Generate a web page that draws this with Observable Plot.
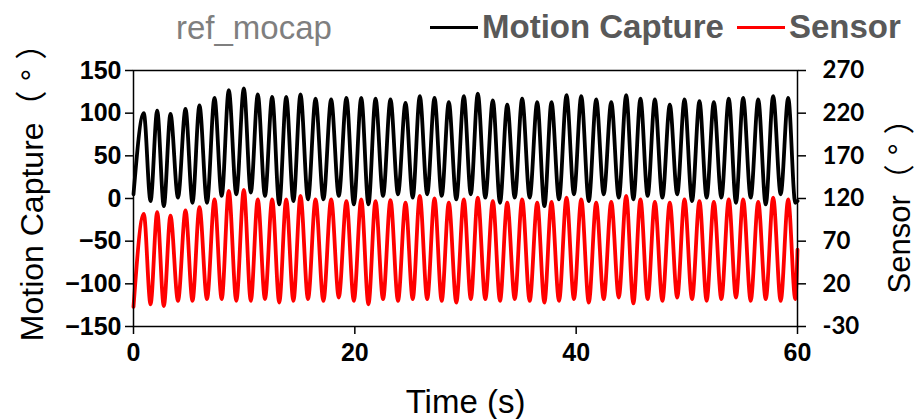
<!DOCTYPE html>
<html><head><meta charset="utf-8">
<script src="https://cdn.jsdelivr.net/npm/d3@7"></script>
<script src="https://cdn.jsdelivr.net/npm/@observablehq/plot@0.6"></script>
<style>
body{margin:0;background:#fff;}
#wrap{position:relative;width:920px;height:419px;overflow:hidden;background:#fff;}
#head{position:relative;width:920px;height:56px;font-family:"Liberation Sans",Arial,sans-serif;}
#head .t{position:absolute;white-space:nowrap;}
#head .sw{position:absolute;height:3px;}
</style></head><body>
<div id="wrap"><div id="head"></div><div id="chart"></div></div>
<script>
// ---- data ----
const chartTitle = "ref_mocap";
const seriesNames = ["Motion Capture", "Sensor"];
const seriesColors = ["#000000", "#ff0000"];
const xLabel = "Time (s)";
const yLabelLeft = "Motion Capture（ ° ）";
const yLabelRight = "Sensor（ ° ）";

const timeDomain = [0, 60];
const timeTicks = [0, 20, 40, 60];
const mocapDomain = [-150, 150];
const mocapTicks = [-150, -100, -50, 0, 50, 100, 150];
const sensorDomain = [-30, 270];
const sensorTicks = [-30, 20, 70, 120, 170, 220, 270];

// time of each oscillation peak / trough (s)
const peakTimes = [0.93, 2.14, 3.34, 4.70, 5.96, 7.32, 8.61, 9.97, 11.23, 12.53, 13.80, 15.09, 16.45, 17.86, 19.24,
  20.58, 21.87, 23.22, 24.58, 25.87, 27.20, 28.49, 29.85, 31.11, 32.47, 33.77, 35.12, 36.48, 37.77, 39.13,
  40.46, 41.81, 43.17, 44.52, 45.81, 47.11, 48.46, 49.79, 51.14, 52.44, 53.79, 55.09, 56.45, 57.80, 59.16];
const troughTimes = [1.54, 2.74, 4.02, 5.33, 6.64, 7.97, 9.29, 10.60, 11.88, 13.17, 14.45, 15.77, 17.16, 18.55, 19.91,
  21.23, 22.55, 23.90, 25.23, 26.54, 27.85, 29.17, 30.48, 31.79, 33.12, 34.45, 35.80, 37.13, 38.45, 39.80,
  41.14, 42.49, 43.85, 45.17, 46.46, 47.79, 49.13, 50.47, 51.79, 53.12, 54.44, 55.77, 57.13, 58.48, 59.80];

// Motion Capture (left axis, °)
const mocapPeaks = [100, 103, 99, 105, 109, 118, 127, 129, 122, 119, 119, 122, 117, 116, 118,
  118, 117, 116, 112, 120, 118, 113, 120, 123, 115, 110, 117, 113, 113, 121,
  120, 116, 113, 121, 117, 116, 110, 116, 114, 113, 117, 118, 116, 120, 118];
const mocapTroughs = [-3, -9, 1, -5, -5, 3, 5, 7, 3, -7, -3, -1, -1, 3, -7,
  -7, 3, 5, 1, 5, 3, -1, 5, 1, -5, 1, 1, -9, -1, 5,
  -3, 5, 1, -1, 3, 1, 5, -3, 1, 1, -5, 1, -7, 5, -5];
const mocapStart = 5, mocapEnd = -3;

// Sensor (right axis, °)
const sensorPeaks = [102, 104, 100, 106, 110, 119, 129, 130, 119, 119, 119, 123, 119, 119, 117,
  119, 117, 118, 115, 123, 120, 115, 119, 121, 117, 115, 119, 115, 116, 121,
  119, 115, 116, 123, 119, 116, 115, 119, 117, 116, 119, 119, 116, 121, 119];
const sensorTroughs = [-4, -6, 0, 0, 2, 2, 0, 0, 2, -2, 0, 2, 0, 4, 0,
  -4, 2, 0, 2, 2, 0, -2, 2, 2, 0, 2, 0, -2, 0, 2,
  -2, 2, 4, -3, 2, 0, 4, 2, 0, 2, 4, 0, 2, 0, 2];
const sensorStart = -7, sensorEnd = 60;

// ---- build rows ----
function rows(peaks, troughs, start, end) {
  const r = [{t: timeDomain[0], v: start}];
  peakTimes.forEach((t, i) => { r.push({t, v: peaks[i]}); r.push({t: troughTimes[i], v: troughs[i]}); });
  r.push({t: timeDomain[1], v: end});
  return r.sort((a, b) => a.t - b.t);
}
const mocapRows = rows(mocapPeaks, mocapTroughs, mocapStart, mocapEnd);
const sensorRows = rows(sensorPeaks, sensorTroughs, sensorStart, sensorEnd);
const toLeft = d3.scaleLinear(sensorDomain, mocapDomain);

// ---- header (title + legend) ----
const head = document.getElementById("head");
function addText(txt, left, top, size, weight, color) {
  const s = document.createElement("span");
  s.className = "t"; s.textContent = txt;
  Object.assign(s.style, {left: left + "px", top: top + "px", fontSize: size + "px", lineHeight: size + "px", fontWeight: weight, color});
  head.appendChild(s);
}
function addSwatch(left, width, color) {
  const s = document.createElement("span");
  s.className = "sw";
  Object.assign(s.style, {left: left + "px", top: "26px", width: width + "px", background: color});
  head.appendChild(s);
}
addText(chartTitle, 176, 11, 33, "normal", "#7f7f7f");
addSwatch(430, 48, seriesColors[0]);
addText(seriesNames[0], 482, 10, 33, "bold", "#595959");
addSwatch(737, 48, seriesColors[1]);
addText(seriesNames[1], 789, 10, 33, "bold", "#595959");

// ---- chart ----
const tickFont = {fontSize: 24, fontWeight: "bold", fontFamily: "Liberation Sans, Arial, sans-serif"};
const chart = Plot.plot({
  width: 920, height: 363,
  marginTop: 14, marginBottom: 93, marginLeft: 133, marginRight: 123,
  style: {fontFamily: "Liberation Sans, Arial, sans-serif", fontSize: "24px", color: "#000", background: "#fff", overflow: "visible"},
  x: {domain: timeDomain, label: null},
  y: {domain: mocapDomain, label: null},
  marks: [
    Plot.line(mocapRows, {x: "t", y: "v", stroke: seriesColors[0], strokeWidth: 3.8, curve: "monotone-x"}),
    Plot.line(sensorRows, {x: "t", y: d => toLeft(d.v), stroke: seriesColors[1], strokeWidth: 3.8, curve: "monotone-x"}),
    Plot.frame({stroke: "#000", strokeWidth: 1.5}),
    Plot.axisX({ticks: timeTicks, tickSize: 8, tickPadding: 9, strokeWidth: 1.5, label: null, ...tickFont, fontSize: 25}),
    Plot.axisY({anchor: "left", ticks: mocapTicks, tickSize: 8, tickPadding: 4, strokeWidth: 1.5, label: null, ...tickFont, fontSize: 25}),
    Plot.axisY({anchor: "right", ticks: sensorTicks.map(toLeft), tickFormat: d => Math.round(toLeft.invert(d)),
      tickSize: 8, tickPadding: 17, strokeWidth: 1.5, label: null, ...tickFont, fontFamily: "Lato, sans-serif"}),
    Plot.text([yLabelLeft], {text: d => d, frameAnchor: "left", dx: -101, dy: -14, rotate: -90, fontSize: 32,
      fill: "#000", textAnchor: "middle", lineAnchor: "middle", fontFamily: "Liberation Sans, Noto Sans CJK JP, sans-serif"}),
    Plot.text([yLabelRight], {text: d => d, frameAnchor: "right", dx: 103, dy: 0, rotate: -90, fontSize: 31,
      fill: "#000", textAnchor: "middle", lineAnchor: "middle", fontFamily: "Liberation Sans, Noto Sans CJK JP, sans-serif"}),
    Plot.text([xLabel], {text: d => d, frameAnchor: "bottom", dy: 76, fontSize: 33,
      fill: "#000", textAnchor: "middle", lineAnchor: "middle", fontFamily: "Liberation Sans, Arial, sans-serif"})
  ]
});
document.getElementById("chart").appendChild(chart);
</script>
</body></html>
